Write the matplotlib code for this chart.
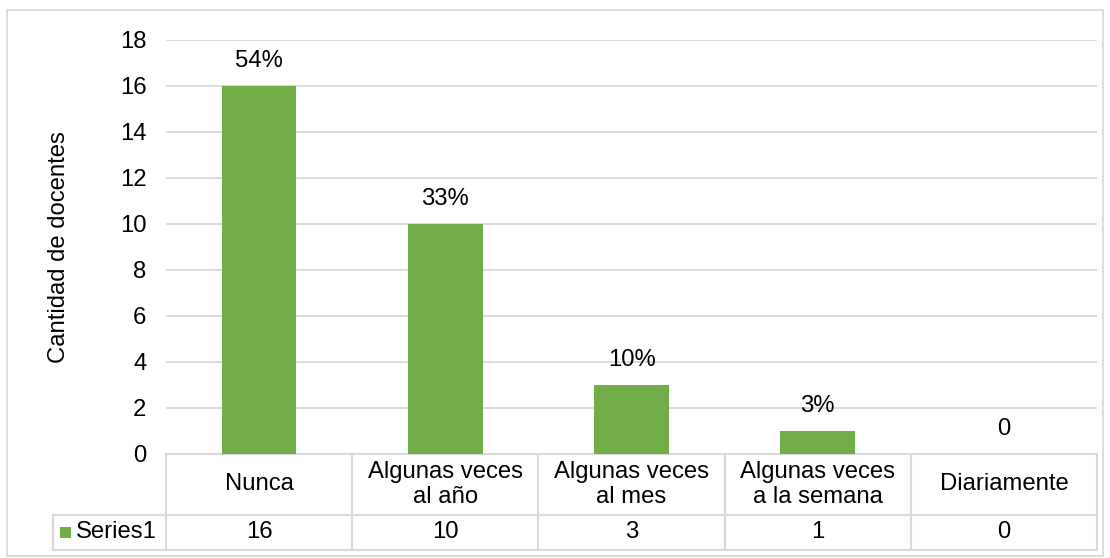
import numpy as np
import matplotlib
matplotlib.use("Agg")
from matplotlib import pyplot as plt
from matplotlib.patches import Rectangle
from matplotlib.transforms import blended_transform_factory

# data
categorias = ["Nunca", "Algunas veces\nal año", "Algunas veces\nal mes",
              "Algunas veces\na la semana", "Diariamente"]
docentes = [16, 10, 3, 1, 0]
etiquetas = ["54%", "33%", "10%", "3%", "0"]
serie = "Series1"

verde = "#70ad47"
gris = "#d9d9d9"
plt.rcParams['font.family'] = ['Liberation Sans', 'DejaVu Sans']
fs = 17.2

W, H = 1110, 558
fig = plt.figure(figsize=(W / 100, H / 100), dpi=100)
ax = fig.add_axes([166 / W, 1 - 454 / H, (1097 - 166) / W, (454 - 40) / H])

x = np.arange(len(categorias))
ax.bar(x, docentes, width=0.4, color=verde, zorder=3)
for xi, v, t in zip(x, docentes, etiquetas):
    ax.text(xi, v + 0.6, t, ha="center", va="bottom", fontsize=fs, color="#000000")

ax.set_xlim(-0.5, len(categorias) - 0.5)
ax.set_ylim(0, 18)
ax.set_yticks(range(0, 19, 2))
ax.yaxis.grid(True, color=gris, linewidth=1.3, zorder=0)
ax.set_xticks([])
ax.tick_params(axis="y", length=0, pad=14, labelsize=fs)
for s in ax.spines.values():
    s.set_visible(False)
ax.set_ylabel("Cantidad de docentes", fontsize=fs, labelpad=36)

# data table under the plot
tr = blended_transform_factory(ax.transData, ax.transAxes)
ah = 454 - 40
y_mid = (454 - 515) / ah
y_bot = (454 - 550) / ah
kw = dict(color=gris, linewidth=1.5, transform=tr, clip_on=False)
ax.plot([-0.5, len(categorias) - 0.5], [0, 0], **kw)
ax.plot([-0.5, len(categorias) - 0.5], [y_bot, y_bot], **kw)
for b in np.arange(len(categorias) + 1) - 0.5:
    ax.plot([b, b], [0, y_bot], **kw)

# legend cell (pixel positions relative to axes left)
ax_w = 1097 - 166
trf = ax.transAxes
lx = (53 - 166) / ax_w
ax.plot([lx, 0.0], [y_mid, y_mid], color=gris, linewidth=1.5, transform=trf, clip_on=False)
ax.plot([lx, 0.0], [y_bot, y_bot], color=gris, linewidth=1.5, transform=trf, clip_on=False)
ax.plot([lx, lx], [y_mid, y_bot], color=gris, linewidth=1.5, transform=trf, clip_on=False)
ax.plot([-0.5, len(categorias) - 0.5], [y_mid, y_mid], **kw)
ax.add_patch(Rectangle(((60 - 166) / ax_w, (454 - 538) / ah), 11 / ax_w, 11 / ah,
                       facecolor=verde, edgecolor="none", transform=trf, clip_on=False))
ax.text((76 - 166) / ax_w, (y_mid + y_bot) / 2, serie, ha="left", va="center",
        fontsize=fs, transform=trf)

for xi, c, v in zip(x, categorias, docentes):
    ax.text(xi, y_mid / 2, c, ha="center", va="center", fontsize=fs,
            transform=tr, linespacing=1.15)
    ax.text(xi, (y_mid + y_bot) / 2, str(v), ha="center", va="center",
            fontsize=fs, transform=tr)

# outer chart border
fig.patches.append(Rectangle((7 / W, 1 - 556 / H), (1103 - 7) / W, (556 - 10) / H,
                             transform=fig.transFigure, fill=False,
                             edgecolor=gris, linewidth=1.3))

fig.savefig("out.png", dpi=100)
